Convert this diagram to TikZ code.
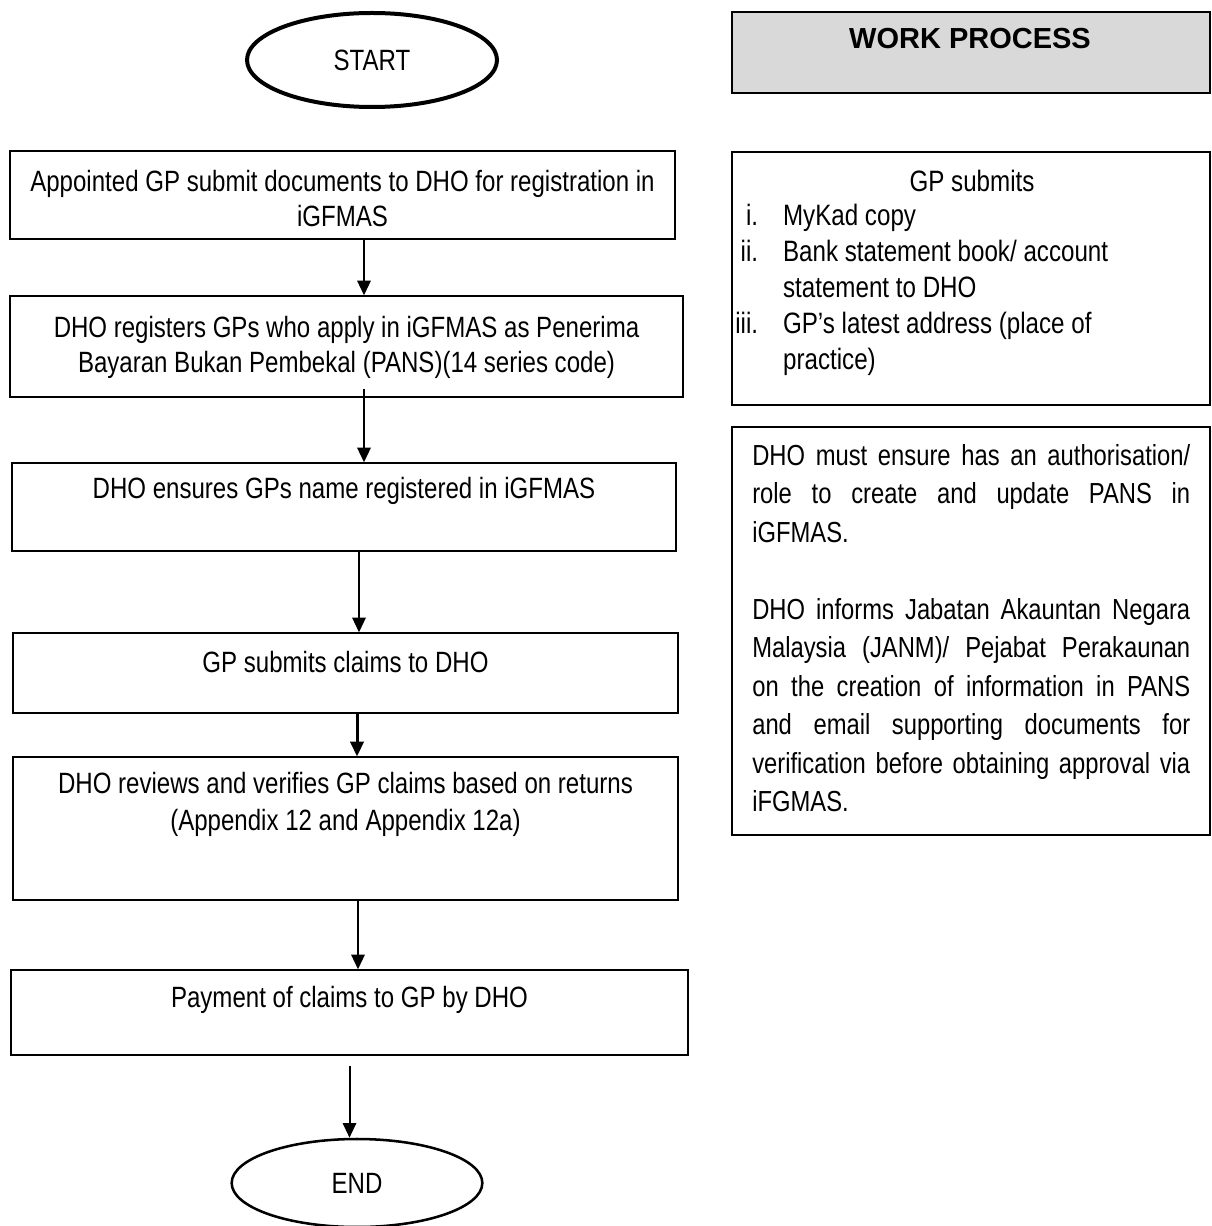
\documentclass[tikz,border=0pt]{standalone}
\usepackage{fontspec}
\setmainfont{Liberation Sans}[FakeStretch=0.82]
\newfontfamily\headfont{Liberation Sans}
\usetikzlibrary{arrows.meta,shapes.geometric,fit}
\definecolor{headgray}{HTML}{D9D9D9}
\begin{document}
\begin{tikzpicture}[x=0.75pt,y=-0.75pt,
  stepbox/.style={draw, line width=1pt, inner sep=0pt},
  termnode/.style={draw, ellipse, inner sep=0pt, font=\fontsize{22pt}{26pt}\selectfont},
  steptext/.style={inner sep=0pt, anchor=base, text width=510pt, align=flush center,
                   font=\fontsize{22pt}{26.25pt}\selectfont},
  flow/.style={line width=1.5pt, -{Triangle[length=11pt,width=10pt]}},
]
\useasboundingbox (0,0) rectangle (1211,1226);

% ---------- terminals ----------
\node[termnode, line width=3pt, minimum width=187.5pt, minimum height=70.5pt] (start) at (372,60) {START};
\node[termnode, line width=1.9pt, minimum width=188pt, minimum height=66pt] (end) at (357,1183) {END};

% ---------- process steps ----------
\node[stepbox, fit={(10,151) (675,239)}] (b1) {};
\node[stepbox, fit={(10,296) (683,397)}] (b2) {};
\node[stepbox, fit={(12,463) (676,551)}] (b3) {};
\node[stepbox, fit={(13,633) (678,713)}] (b4) {};
\node[stepbox, fit={(13,757) (678,900)}] (b5) {};
\node[stepbox, fit={(11,970) (688,1055)}] (b6) {};

\node[steptext] (t1) at (342.5,192) {Appointed GP submit documents to DHO for registration in\\iGFMAS};
\node[steptext] (t2) at (346.5,338) {DHO registers GPs who apply in iGFMAS as Penerima\\Bayaran Bukan Pembekal (PANS)(14 series code)};
\node[steptext] (t3) at (344,498) {DHO ensures GPs name registered in iGFMAS};
\node[steptext] (t4) at (345.5,672) {GP submits claims to DHO};
\node[steptext, font=\fontsize{22pt}{27.75pt}\selectfont] (t5) at (345.5,793) {DHO reviews and verifies GP claims based on returns\\(Appendix 12 and Appendix 12a)};
\node[steptext] (t6) at (349.5,1007) {Payment of claims to GP by DHO};

% ---------- connectors ----------
\draw[flow] ([xshift=16.125pt]b1.south) -- ([xshift=16.125pt]b1.south |- b2.north);
\draw[flow] ([xshift=13.125pt,yshift=6.75pt]b2.south) -- ([xshift=13.125pt]b2.south |- b3.north);
\draw[flow] ([xshift=11.25pt]b3.south) -- ([xshift=11.25pt]b3.south |- b4.north);
\draw[flow, line width=2.25pt] ([xshift=8.625pt]b4.south) -- ([xshift=8.625pt]b4.south |- b5.north);
\draw[flow] ([xshift=9.375pt]b5.south) -- ([xshift=9.375pt]b5.south |- b6.north);
\draw[flow] ([yshift=-7.5pt]b6.south) -- (b6.south |- end.north);

% ---------- work process column ----------
\node[stepbox, fill=headgray, line width=1.2pt, fit={(732,12) (1210,93)}] (wp) {};
\node[inner sep=0pt, font=\headfont\bfseries\fontsize{21.75pt}{26pt}\selectfont] (wptext) at (970,39) {WORK PROCESS};

\node[stepbox, fit={(732,152) (1210,405)}] (r1) {};
\node[inner sep=0pt, anchor=base, font=\fontsize{22.1pt}{27pt}\selectfont] (r1head) at (972,192) {GP submits};
\node[inner sep=0pt, anchor=base west, font=\fontsize{22.1pt}{27pt}\selectfont] (r1list) at (735,226)
  {\begin{tabular}[t]{@{}r@{\hspace{18.75pt}}l@{}}
   i.   & MyKad copy\\
   ii.  & Bank statement book/ account\\
        & statement to DHO\\
   iii. & GP’s latest address (place of\\
        & practice)
   \end{tabular}};

\node[stepbox, fit={(732,427) (1210,835)}] (r2) {};
\node[inner sep=0pt, anchor=base west, text width=328.5pt, align=justify,
      font=\fontsize{21.75pt}{28.9pt}\selectfont] (r2text) at (752,465)
  {DHO must ensure has an authorisation/\linebreak role to create and update PANS in\linebreak iGFMAS.\par
   \vspace{28.9pt}%
   DHO informs Jabatan Akauntan Negara\linebreak Malaysia (JANM)/ Pejabat Perakaunan\linebreak on the creation of information in PANS\linebreak and email supporting documents for\linebreak verification before obtaining approval via\linebreak iFGMAS.};
\end{tikzpicture}
\end{document}
